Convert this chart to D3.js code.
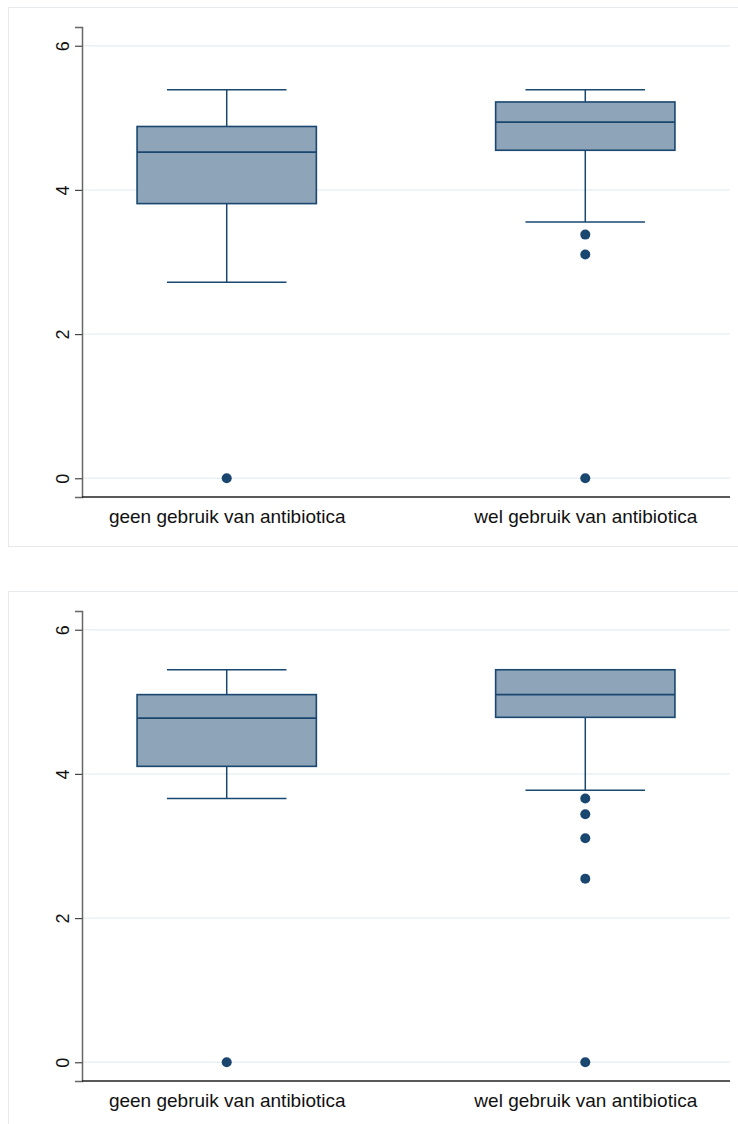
<!DOCTYPE html>
<html>
<head>
<meta charset="utf-8">
<script src="https://cdn.jsdelivr.net/npm/d3@7"></script>
<style>
  html, body { margin: 0; padding: 0; background: #fff; }
  svg { display: block; }
  text { font-family: "Liberation Sans", Arial, sans-serif; fill: #111; }
</style>
</head>
<body>
<script>
// ---- data ----
const categories = ["geen gebruik van antibiotica", "wel gebruik van antibiotica"];
const yTicks = [0, 2, 4, 6];

// panel 1 (top)
const p1Lower  = [2.72, 3.555];
const p1Q1     = [3.81, 4.55];
const p1Median = [4.525, 4.94];
const p1Q3     = [4.88, 5.22];
const p1Upper  = [5.39, 5.39];
const p1Outliers = [[0], [3.38, 3.105, 0]];

// panel 2 (bottom)
const p2Lower  = [3.66, 3.775];
const p2Q1     = [4.105, 4.785];
const p2Median = [4.775, 5.10];
const p2Q3     = [5.10, 5.445];
const p2Upper  = [5.445, 5.445];
const p2Outliers = [[0], [3.66, 3.44, 3.107, 2.546, 0]];

// ---- drawing ----
const W = 738, H = 1124;
const svg = d3.select("body").append("svg").attr("width", W).attr("height", H);

const navy = "#1a476f";
const fillC = "#8ea4b8";

function panel(offsetY, lower, q1, med, q3, upper, outl) {
  const g = svg.append("g").attr("transform", `translate(0,${offsetY})`);
  // outer frame
  g.append("rect").attr("x", 8.5).attr("y", 7.5).attr("width", 740).attr("height", 539)
    .attr("fill", "#fff").attr("stroke", "#e6eaec").attr("stroke-width", 1);

  const y = d3.scaleLinear().domain([-0.26, 6.26]).range([497, 27]);
  const x = d3.scalePoint().domain(categories).range([82, 730]).padding(0.4036);
  const step = x.step();
  const boxW = step * 0.5, capW = step / 3;

  // gridlines
  g.append("g").selectAll("line").data(yTicks).join("line")
    .attr("x1", 82).attr("x2", 730)
    .attr("y1", d => y(d)).attr("y2", d => y(d))
    .attr("stroke", "#eaf0f3").attr("stroke-width", 1.5);

  // y axis
  const yAxis = g.append("g").attr("transform", "translate(82,0)")
    .call(d3.axisLeft(y).tickValues(yTicks).tickSize(7).tickPadding(6).tickFormat(d3.format("d")));
  yAxis.select(".domain").attr("stroke", "#666").attr("stroke-width", 1.5);
  yAxis.selectAll(".tick line").attr("stroke", "#444").attr("stroke-width", 1.2);
  yAxis.selectAll(".tick text")
    .attr("font-size", 18).attr("text-anchor", "middle")
    .attr("x", null).attr("dy", null)
    .attr("transform", "translate(-13.5,0) rotate(-90)")
    .style("font-family", "Liberation Sans, Arial, sans-serif").attr("fill", "#111");

  // x axis
  const xAxis = g.append("g").attr("transform", "translate(0,497)")
    .call(d3.axisBottom(x).tickSize(0).tickPadding(13));
  xAxis.select(".domain").attr("stroke", "#222").attr("stroke-width", 1.5).attr("d", "M82,0H730");
  xAxis.selectAll(".tick text").attr("font-size", 19).attr("fill", "#111")
    .style("font-family", "Liberation Sans, Arial, sans-serif");

  const data = categories.map((c, i) => ({c, lo: lower[i], q1: q1[i], md: med[i], q3: q3[i], hi: upper[i], out: outl[i]}));
  const bx = g.append("g").selectAll("g").data(data).join("g");

  // whiskers
  bx.append("line").attr("x1", d => x(d.c)).attr("x2", d => x(d.c))
    .attr("y1", d => y(d.q3)).attr("y2", d => y(d.hi)).attr("stroke", navy).attr("stroke-width", 1.5);
  bx.append("line").attr("x1", d => x(d.c)).attr("x2", d => x(d.c))
    .attr("y1", d => y(d.q1)).attr("y2", d => y(d.lo)).attr("stroke", navy).attr("stroke-width", 1.5);
  // caps
  bx.filter(d => d.hi > d.q3).append("line")
    .attr("x1", d => x(d.c) - capW / 2).attr("x2", d => x(d.c) + capW / 2)
    .attr("y1", d => y(d.hi)).attr("y2", d => y(d.hi)).attr("stroke", navy).attr("stroke-width", 1.5);
  bx.append("line")
    .attr("x1", d => x(d.c) - capW / 2).attr("x2", d => x(d.c) + capW / 2)
    .attr("y1", d => y(d.lo)).attr("y2", d => y(d.lo)).attr("stroke", navy).attr("stroke-width", 1.5);
  // box
  bx.append("rect").attr("x", d => x(d.c) - boxW / 2).attr("width", boxW)
    .attr("y", d => y(d.q3)).attr("height", d => y(d.q1) - y(d.q3))
    .attr("fill", fillC).attr("stroke", navy).attr("stroke-width", 1.6);
  // median
  bx.append("line").attr("x1", d => x(d.c) - boxW / 2).attr("x2", d => x(d.c) + boxW / 2)
    .attr("y1", d => y(d.md)).attr("y2", d => y(d.md)).attr("stroke", navy).attr("stroke-width", 1.8);
  // outliers
  bx.each(function(d) {
    d3.select(this).selectAll("circle").data(d.out).join("circle")
      .attr("cx", x(d.c)).attr("cy", v => y(v)).attr("r", 5).attr("fill", navy);
  });
}

panel(0, p1Lower, p1Q1, p1Median, p1Q3, p1Upper, p1Outliers);
panel(584, p2Lower, p2Q1, p2Median, p2Q3, p2Upper, p2Outliers);
</script>
</body>
</html>
